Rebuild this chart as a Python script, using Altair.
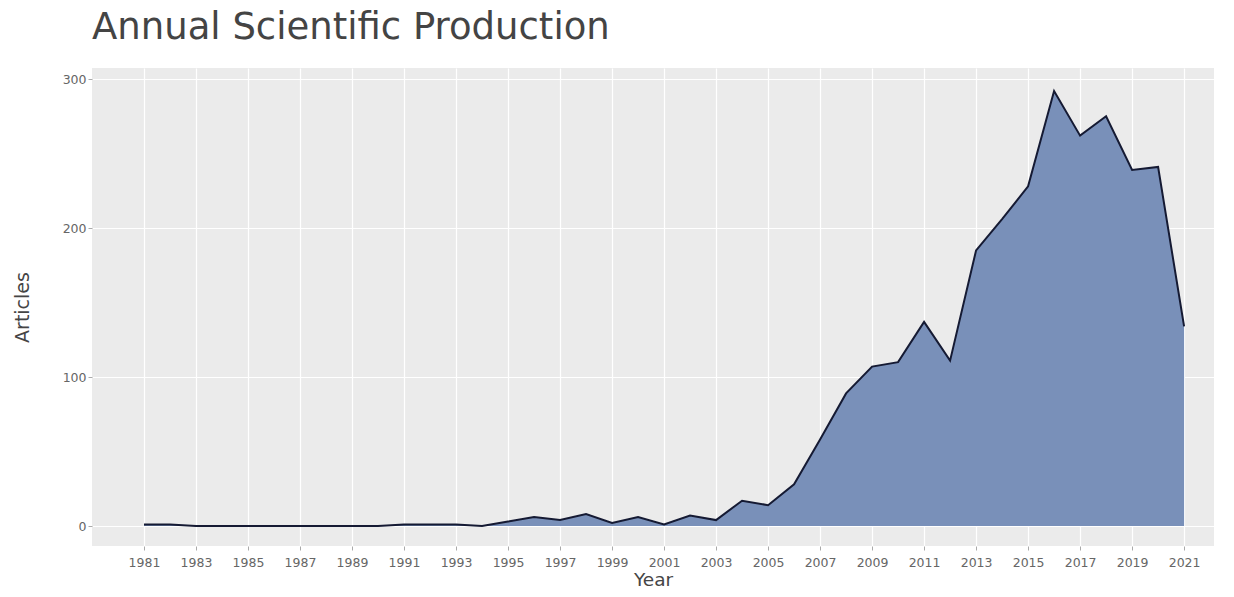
import altair as alt
import pandas as pd

years = list(range(1981, 2022))
articles = [1, 1, 0, 0, 0, 0, 0, 0, 0, 0,
            1, 1, 1, 0, 3, 6, 4, 8, 2, 6,
            1, 7, 4, 17, 14, 28, 58, 89, 107, 110,
            137, 111, 185, 206, 228, 292, 262, 275, 239, 241,
            134]
tick_years = list(range(1981, 2022, 2))
y_ticks = [0, 100, 200, 300]

df = pd.DataFrame({"Year": years, "Articles": articles})

FONT = "DejaVu Sans"

x_enc = alt.X("Year:Q",
              scale=alt.Scale(domain=[1979.0, 2022.15], nice=False, zero=False),
              axis=alt.Axis(values=tick_years, format="d", title="Year",
                            labelFontSize=12.5, labelColor="#666666", labelFont=FONT,
                            titleFontSize=18.5, titleColor="#454545", titleFont=FONT,
                            titleFontWeight="normal", titlePadding=2,
                            tickSize=4, tickColor="#aaaaaa", labelPadding=6,
                            domain=False, grid=True, gridColor="#ffffff", gridWidth=1.2))
y_enc = alt.Y("Articles:Q",
              scale=alt.Scale(domain=[-13.4, 307.4], nice=False, zero=False),
              axis=alt.Axis(values=y_ticks, title="Articles",
                            labelFontSize=12.5, labelColor="#666666", labelFont=FONT,
                            titleFontSize=19, titleColor="#454545", titleFont=FONT,
                            titleFontWeight="normal", titlePadding=30,
                            tickSize=4, tickColor="#aaaaaa", labelPadding=2,
                            domain=False, grid=True, gridColor="#ffffff", gridWidth=1.2))

area = alt.Chart(df).mark_area(color="#7990b9", opacity=1).encode(
    x=x_enc, y=y_enc, y2=alt.datum(0)
)
line = alt.Chart(df).mark_line(color="#151a33", strokeWidth=2).encode(
    x="Year:Q", y="Articles:Q"
)

chart = alt.layer(area, line).properties(
    width=1122, height=478,
    background="#ffffff",
    autosize=alt.AutoSizeParams(type="none"),
    padding={"left": 84, "top": 60, "right": 12, "bottom": 43},
    title=alt.TitleParams("Annual Scientific Production", anchor="start", frame="group",
                          fontSize=37, font=FONT, fontWeight="normal", color="#444444",
                          offset=21),
).configure_view(fill="#ebebeb", stroke=None)

chart.save("out.html", embed_options={"renderer": "svg", "actions": False})
